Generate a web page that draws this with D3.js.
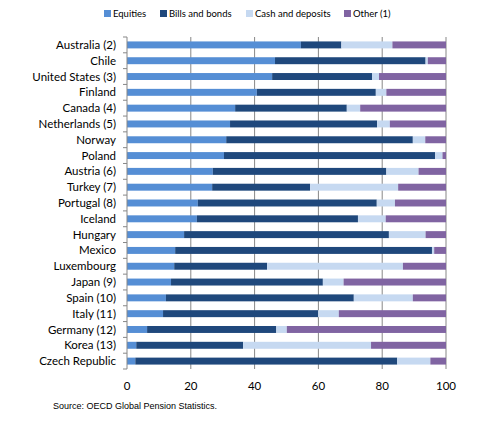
<!DOCTYPE html>
<html>
<head>
<meta charset="utf-8">
<script src="https://cdn.jsdelivr.net/npm/d3@7"></script>
<style>
  body { margin: 0; background: #fff; }
  svg text { font-family: Lato, "Open Sans", sans-serif; fill: #000; }
</style>
</head>
<body>
<div id="chart"></div>
<script>
// categories, top to bottom
var countries = ["Australia (2)", "Chile", "United States (3)", "Finland", "Canada (4)",
  "Netherlands (5)", "Norway", "Poland", "Austria (6)", "Turkey (7)", "Portugal (8)",
  "Iceland", "Hungary", "Mexico", "Luxembourg", "Japan (9)", "Spain (10)", "Italy (11)",
  "Germany (12)", "Korea (13)", "Czech Republic"];

// shares in % of total investment
var equities = [54.5, 46.4, 45.5, 40.7, 33.9, 32.3, 31.1, 30.4, 26.9, 26.7, 22.2,
  21.9, 17.9, 15.1, 14.8, 13.8, 12.2, 11.3, 6.3, 2.9, 2.6];
var bills = [12.7, 47.2, 31.3, 37.3, 35.0, 46.1, 58.5, 66.2, 54.4, 30.7, 56.1,
  50.5, 64.2, 80.5, 29.1, 47.6, 58.9, 48.6, 40.5, 33.5, 82.1];
var cash = [16.0, 0.7, 2.2, 3.3, 4.2, 4.0, 3.9, 2.3, 10.1, 27.6, 5.7,
  8.7, 11.5, 0.7, 42.6, 6.5, 18.5, 6.5, 3.3, 40.1, 10.4];
var other = [16.8, 5.7, 21.0, 18.7, 26.9, 17.6, 6.5, 1.1, 8.6, 15.0, 16.0,
  18.9, 6.4, 3.7, 13.5, 32.1, 10.4, 33.6, 49.9, 23.5, 4.9];

var seriesNames = ["Equities", "Bills and bonds", "Cash and deposits", "Other (1)"];
var seriesColors = ["#558ED5", "#1F487C", "#C6D9F1", "#8064A2"];
var xTicks = [0, 20, 40, 60, 80, 100];

var width = 495, height = 426;
var margin = {top: 37, right: 49, bottom: 57, left: 127};

var svg = d3.select("#chart").append("svg")
  .attr("width", width)
  .attr("height", height);

var rows = countries.map(function(c, i) {
  return {country: c, Equities: equities[i], "Bills and bonds": bills[i],
    "Cash and deposits": cash[i], "Other (1)": other[i]};
});

var stack = d3.stack().keys(seriesNames)(rows);

var x = d3.scaleLinear().domain([0, 100]).range([margin.left, width - margin.right]);
var y = d3.scaleBand().domain(countries)
  .range([margin.top, height - margin.bottom])
  .paddingInner(0.56).paddingOuter(0.28);

var color = d3.scaleOrdinal().domain(seriesNames).range(seriesColors);

// vertical gridlines
svg.append("g").selectAll("line")
  .data(xTicks.slice(1))
  .enter().append("line")
  .attr("x1", function(d) { return x(d); })
  .attr("x2", function(d) { return x(d); })
  .attr("y1", margin.top)
  .attr("y2", height - margin.bottom)
  .attr("stroke", "#878787")
  .attr("stroke-width", 1);

// bars
svg.append("g").selectAll("g")
  .data(stack)
  .enter().append("g")
  .attr("fill", function(d) { return color(d.key); })
  .selectAll("rect")
  .data(function(d) { return d; })
  .enter().append("rect")
  .attr("x", function(d) { return x(d[0]); })
  .attr("y", function(d) { return y(d.data.country); })
  .attr("width", function(d) { return x(d[1]) - x(d[0]); })
  .attr("height", y.bandwidth());

// left axis: line, ticks between categories
var leftAxis = svg.append("g");
leftAxis.append("line")
  .attr("x1", x(0)).attr("x2", x(0))
  .attr("y1", margin.top).attr("y2", height - margin.bottom)
  .attr("stroke", "#878787");
var step = y.step();
var bounds = d3.range(countries.length + 1).map(function(i) {
  return margin.top + i * (height - margin.top - margin.bottom) / countries.length;
});
leftAxis.selectAll(".tk")
  .data(bounds)
  .enter().append("line")
  .attr("class", "tk")
  .attr("x1", x(0) - 4).attr("x2", x(0))
  .attr("y1", function(d) { return d; })
  .attr("y2", function(d) { return d; })
  .attr("stroke", "#878787");
leftAxis.selectAll("text")
  .data(countries)
  .enter().append("text")
  .attr("x", 116)
  .attr("y", function(d) { return y(d) + y.bandwidth() / 2; })
  .attr("dy", "0.35em")
  .attr("text-anchor", "end")
  .attr("font-size", "11.5px")
  .text(function(d) { return d; });

// bottom tick labels
svg.append("g").selectAll("text")
  .data(xTicks)
  .enter().append("text")
  .attr("x", function(d) { return x(d); })
  .attr("y", 390)
  .attr("text-anchor", "middle")
  .attr("font-size", "11.5px")
  .text(function(d) { return d; });

// legend
var legendX = [104, 160, 246, 344];
var legend = svg.append("g").selectAll("g")
  .data(seriesNames)
  .enter().append("g")
  .attr("transform", function(d, i) { return "translate(" + legendX[i] + ",10)"; });
legend.append("rect")
  .attr("width", 7).attr("height", 7)
  .attr("fill", function(d) { return color(d); });
legend.append("text")
  .attr("x", 9).attr("y", 4)
  .attr("dy", "0.35em")
  .attr("font-size", "9.5px")
  .text(function(d) { return d; });

// source note
svg.append("text")
  .attr("x", 53).attr("y", 409)
  .attr("font-size", "9px")
  .style("font-family", "'Liberation Sans', Arial, sans-serif")
  .text("Source: OECD Global Pension Statistics.");
</script>
</body>
</html>
